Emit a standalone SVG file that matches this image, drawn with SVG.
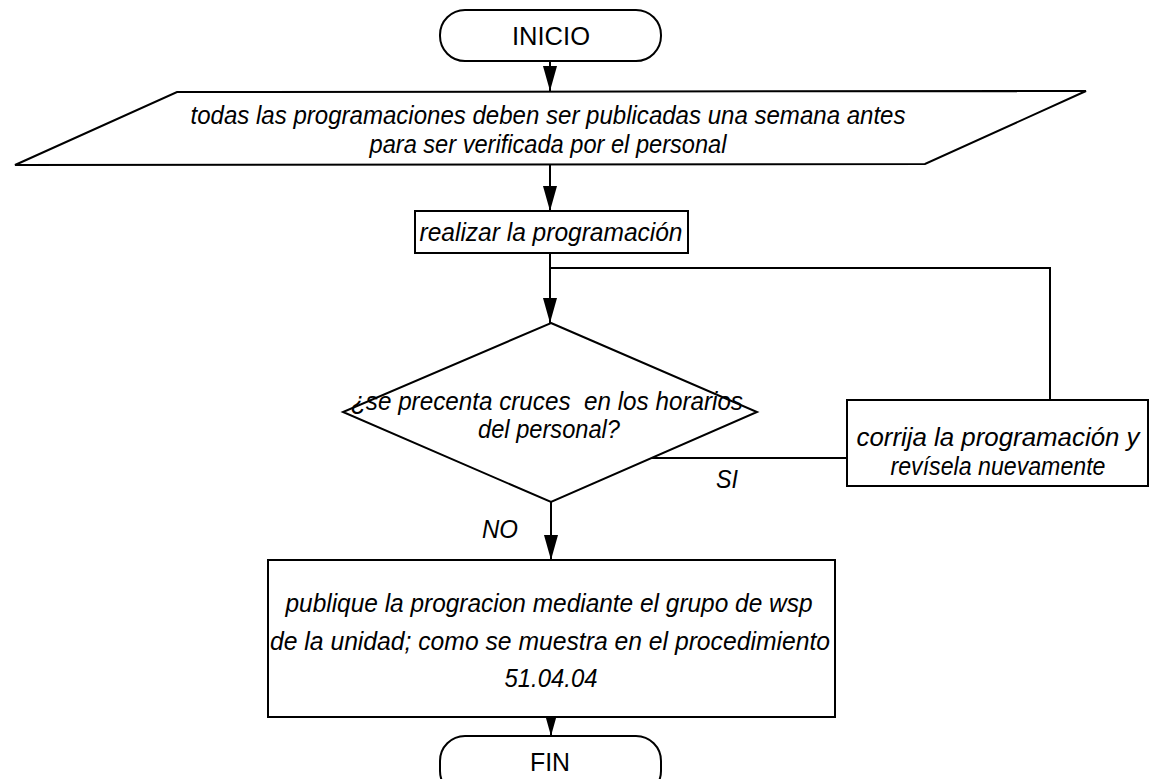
<svg xmlns="http://www.w3.org/2000/svg" width="1156" height="779" viewBox="0 0 1156 779">
<style>
.s{fill:#fff;stroke:#000;stroke-width:2}
.c{fill:none;stroke:#000;stroke-width:2}
.t{font-family:"Liberation Sans",Arial,sans-serif;font-style:italic;font-size:26px;fill:#000;text-anchor:middle;white-space:pre}
.u{font-family:"Liberation Sans",Arial,sans-serif;font-size:26px;fill:#000;text-anchor:middle}
</style>
<defs>
<marker id="ah" markerUnits="userSpaceOnUse" markerWidth="25" markerHeight="14" refX="25" refY="7" orient="auto" viewBox="0 0 25 14">
<path d="M0,0 L25,7 L0,14 Z" fill="#000"/>
</marker>
</defs>
<rect width="1156" height="779" fill="#fff"/>
<g id="connectors">
<line class="c" x1="550" y1="61" x2="550" y2="91" marker-end="url(#ah)"/>
<line class="c" x1="550" y1="164" x2="550" y2="211" marker-end="url(#ah)"/>
<line class="c" x1="550" y1="253" x2="550" y2="323" marker-end="url(#ah)"/>
<polyline class="c" points="1050,400 1050,268 550,268"/>
<line class="c" x1="652" y1="458" x2="847" y2="458"/>
<line class="c" x1="551" y1="502" x2="551" y2="560" marker-end="url(#ah)"/>
<line class="c" x1="551" y1="717" x2="551" y2="736" marker-end="url(#ah)"/>
</g>
<g id="inicio">
<rect class="s" x="440" y="10" width="221" height="51" rx="25" ry="25"/>
<text class="u" x="551" y="45" textLength="78" lengthAdjust="spacingAndGlyphs">INICIO</text>
</g>
<g id="datos">
<polygon class="s" points="177,92 1086,91 925,164 15,165"/>
<text class="t" x="548" y="124" textLength="715" lengthAdjust="spacingAndGlyphs">todas las programaciones deben ser publicadas una semana antes</text>
<text class="t" x="548" y="153" textLength="357" lengthAdjust="spacingAndGlyphs">para ser verificada por el personal</text>
</g>
<g id="realizar">
<rect class="s" x="415" y="211" width="273" height="42"/>
<text class="t" x="551" y="241" textLength="263" lengthAdjust="spacingAndGlyphs">realizar la programación</text>
</g>
<g id="decision">
<polygon class="s" points="551,323 757,412 551,502 343,412"/>
<text class="t" x="547" y="410" textLength="392" lengthAdjust="spacingAndGlyphs">¿se precenta cruces  en los horarios</text>
<text class="t" x="549" y="438" textLength="142" lengthAdjust="spacingAndGlyphs">del personal?</text>
<text class="t" x="727" y="488" textLength="22" lengthAdjust="spacingAndGlyphs">SI</text>
<text class="t" x="500" y="538" textLength="36" lengthAdjust="spacingAndGlyphs">NO</text>
</g>
<g id="corrija">
<rect class="s" x="847" y="400" width="301" height="86"/>
<text class="t" x="998" y="446" textLength="283" lengthAdjust="spacingAndGlyphs">corrija la programación y</text>
<text class="t" x="998" y="475" textLength="215" lengthAdjust="spacingAndGlyphs">revísela nuevamente</text>
</g>
<g id="publique">
<rect class="s" x="268" y="560" width="567" height="157"/>
<text class="t" x="549" y="612" textLength="527" lengthAdjust="spacingAndGlyphs">publique la progracion mediante el grupo de wsp</text>
<text class="t" x="550" y="650" textLength="560" lengthAdjust="spacingAndGlyphs">de la unidad; como se muestra en el procedimiento</text>
<text class="t" x="551" y="687" textLength="93" lengthAdjust="spacingAndGlyphs">51.04.04</text>
</g>
<g id="fin">
<rect class="s" x="440" y="736" width="221" height="60" rx="25" ry="25"/>
<text class="u" x="550" y="771" textLength="40" lengthAdjust="spacingAndGlyphs">FIN</text>
</g>
</svg>
